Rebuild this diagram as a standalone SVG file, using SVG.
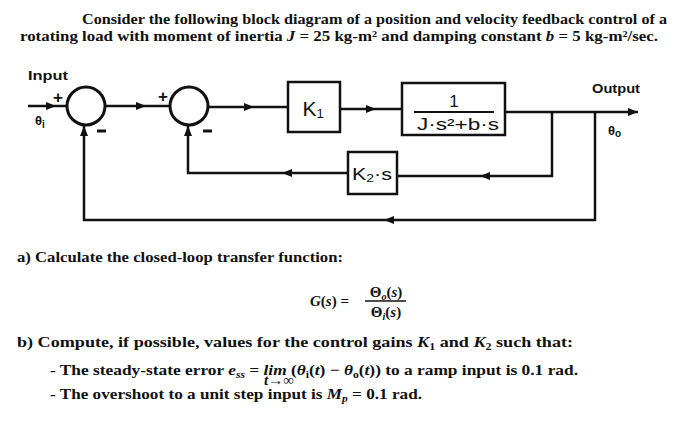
<svg xmlns="http://www.w3.org/2000/svg" width="700" height="432" viewBox="0 0 700 432">
<style>
.t{font-family:"Liberation Serif",serif;font-weight:bold;font-size:15px;fill:#111}
.m{font-style:italic}
.s{font-family:"Liberation Sans",Arial,sans-serif;font-weight:bold;fill:#111}
.h{font-family:"Liberation Sans",Arial,sans-serif;fill:#111}
.ln{fill:none;stroke:#111;stroke-width:2.5;stroke-linejoin:miter}
.bx{fill:#fff;stroke:#111;stroke-width:2.5}
</style>
<defs>
<marker id="a" viewBox="0 0 10 8" refX="10" refY="4" markerWidth="11" markerHeight="8" markerUnits="userSpaceOnUse" orient="auto">
<path d="M0,0 L10,4 L0,8 z" fill="#111"/>
</marker>
</defs>

<text class="t" x="82" y="24" textLength="585" lengthAdjust="spacingAndGlyphs">Consider the following block diagram of a position and velocity feedback control of a</text>
<text class="t" x="20" y="41" textLength="638" lengthAdjust="spacingAndGlyphs">rotating load with moment of inertia <tspan class="m">J</tspan> = 25 kg-m² and damping constant <tspan class="m">b</tspan> = 5 kg-m²/sec.</text>

<g id="connectors">
<path class="ln" d="M28,106 H56" marker-end="url(#a)"/>
<path class="ln" d="M56,106 H67"/>
<path class="ln" d="M105,106 H146" marker-end="url(#a)"/>
<path class="ln" d="M146,106 H170"/>
<path class="ln" d="M208,107 H254" marker-end="url(#a)"/>
<path class="ln" d="M254,107 H288"/>
<path class="ln" d="M340,109 H376" marker-end="url(#a)"/>
<path class="ln" d="M376,109 H402"/>
<path class="ln" d="M505,112 H638" marker-end="url(#a)"/>
<path class="ln" d="M552,112 V176 H480" marker-end="url(#a)"/>
<path class="ln" d="M480,176 H397"/>
<path class="ln" d="M348,173 H282" marker-end="url(#a)"/>
<path class="ln" d="M282,173 H188 V126" marker-end="url(#a)"/>
<path class="ln" d="M595,112 V220 H384" marker-end="url(#a)"/>
<path class="ln" d="M384,220 H84 V126" marker-end="url(#a)"/>
</g>

<g id="sum1">
<circle cx="86" cy="106" r="19" fill="none" stroke="#111" stroke-width="3"/>
<text class="s" x="58" y="103" font-size="17" text-anchor="middle">+</text>
<line x1="97" y1="131" x2="106" y2="131" stroke="#111" stroke-width="3"/>
</g>
<g id="sum2">
<circle cx="189" cy="106" r="19" fill="none" stroke="#111" stroke-width="3"/>
<text class="s" x="163" y="102" font-size="17" text-anchor="middle">+</text>
<line x1="203" y1="131" x2="212" y2="131" stroke="#111" stroke-width="3"/>
</g>
<g id="input">
<text class="s" x="28" y="80" font-size="12" textLength="40" lengthAdjust="spacingAndGlyphs">Input</text>
<text class="s" x="35" y="125" font-size="13">θ<tspan font-size="10" dy="3">i</tspan></text>
</g>
<g id="k1">
<rect class="bx" x="288" y="82" width="52" height="50"/>
<text class="h" x="313" y="116" font-size="21" text-anchor="middle">K<tspan font-size="13" dy="2">1</tspan></text>
</g>
<g id="plant">
<rect class="bx" x="402" y="83" width="103" height="52"/>
<text class="h" x="454" y="107" font-size="17" text-anchor="middle">1</text>
<line x1="414" y1="112" x2="494" y2="112" stroke="#111" stroke-width="2"/>
<text class="h" x="417" y="130" font-size="16" textLength="82" lengthAdjust="spacingAndGlyphs">J·s²+b·s</text>
</g>
<g id="k2">
<rect class="bx" x="348" y="152" width="49" height="42"/>
<text class="h" x="352" y="180" font-size="17" textLength="40" lengthAdjust="spacingAndGlyphs">K<tspan font-size="11" dy="2">2</tspan><tspan dy="-2">·s</tspan></text>
</g>
<g id="output">
<text class="s" x="592" y="93" font-size="12" textLength="48" lengthAdjust="spacingAndGlyphs">Output</text>
<text class="s" x="608" y="135" font-size="13">θ<tspan font-size="10" dy="2">o</tspan></text>
</g>

<text class="t" x="17" y="262" textLength="326" lengthAdjust="spacingAndGlyphs">a) Calculate the closed-loop transfer function:</text>
<text class="t" x="310" y="306"><tspan class="m">G</tspan>(<tspan class="m">s</tspan>) =</text>
<text class="t" x="386" y="297" text-anchor="middle">Θ<tspan font-size="10" dy="3" class="m">o</tspan><tspan dy="-3">(</tspan><tspan class="m">s</tspan>)</text>
<line x1="365" y1="301" x2="406" y2="301" stroke="#111" stroke-width="1.3"/>
<text class="t" x="386" y="317" text-anchor="middle">Θ<tspan font-size="10" dy="3" class="m">i</tspan><tspan dy="-3">(</tspan><tspan class="m">s</tspan>)</text>

<text class="t" x="17" y="347" textLength="556" lengthAdjust="spacingAndGlyphs">b) Compute, if possible, values for the control gains <tspan class="m">K</tspan><tspan font-size="10" dy="3">1</tspan><tspan dy="-3"> and </tspan><tspan class="m">K</tspan><tspan font-size="10" dy="3">2</tspan><tspan dy="-3"> such that:</tspan></text>
<text class="t" x="50" y="375" textLength="528" lengthAdjust="spacingAndGlyphs">- The steady-state error <tspan class="m">e</tspan><tspan font-size="10" dy="3" class="m">ss</tspan><tspan dy="-3"> = </tspan><tspan class="m">lim</tspan>  (<tspan class="m">θ</tspan><tspan font-size="10" dy="3">i</tspan><tspan dy="-3">(</tspan><tspan class="m">t</tspan>) − <tspan class="m">θ</tspan><tspan font-size="10" dy="3">o</tspan><tspan dy="-3">(</tspan><tspan class="m">t</tspan>)) to a ramp input is 0.1 rad.</text>
<text class="t" x="279" y="385" font-size="7" text-anchor="middle" font-style="italic">t→∞</text>
<text class="t" x="50" y="399" textLength="372" lengthAdjust="spacingAndGlyphs">- The overshoot to a unit step input is <tspan class="m">M</tspan><tspan font-size="10" dy="3" class="m">p</tspan><tspan dy="-3"> = 0.1 rad.</tspan></text>
</svg>
